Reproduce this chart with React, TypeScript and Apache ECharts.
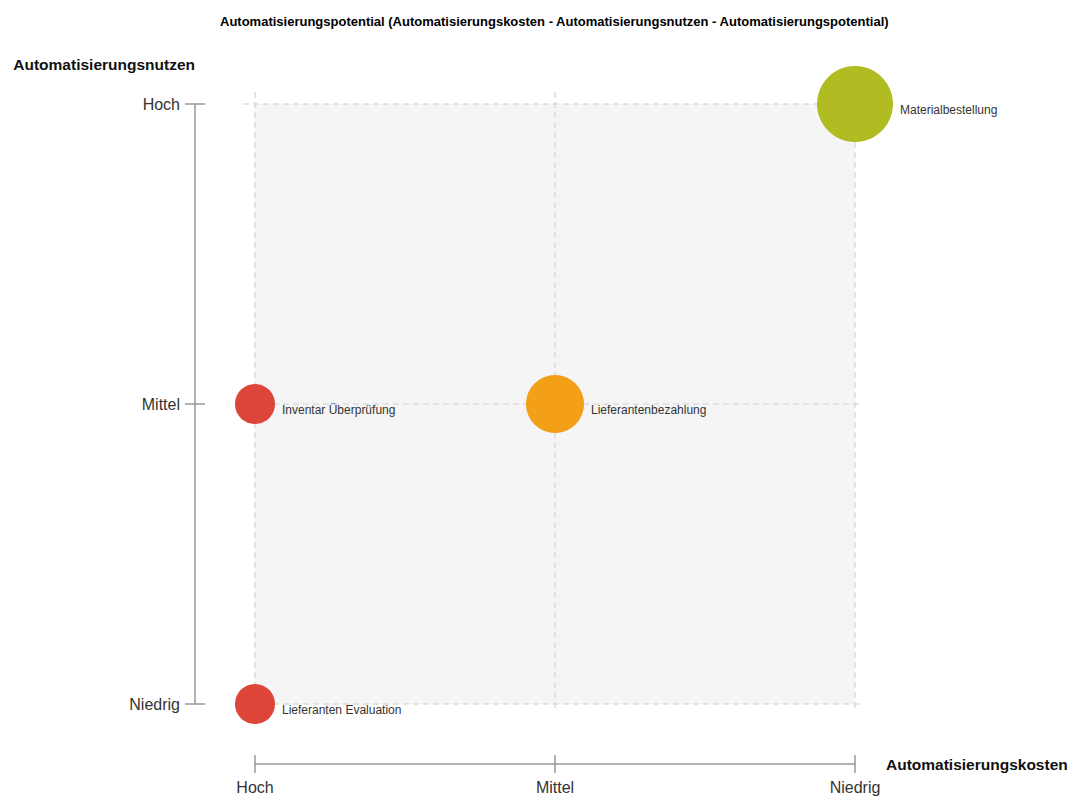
import React, { useEffect, useRef } from "react";
import * as echarts from "echarts";

const TITLE = "Automatisierungspotential (Automatisierungskosten - Automatisierungsnutzen - Automatisierungspotential)";
const X_NAME = "Automatisierungskosten";
const Y_NAME = "Automatisierungsnutzen";
const xCategories = ["Hoch", "Mittel", "Niedrig"];
const yCategories = ["Niedrig", "Mittel", "Hoch"];

const names = ["Materialbestellung", "Lieferantenbezahlung", "Inventar Überprüfung", "Lieferanten Evaluation"];
const kosten = ["Niedrig", "Mittel", "Hoch", "Hoch"];
const nutzen = ["Hoch", "Mittel", "Mittel", "Niedrig"];
const potential = ["Hoch", "Mittel", "Niedrig", "Niedrig"];

const potentialColor: Record<string, string> = { Hoch: "#b0bc22", Mittel: "#f39f18", Niedrig: "#dd4539" };
const potentialSize: Record<string, number> = { Hoch: 76, Mittel: 58, Niedrig: 40 };

const FONT = "'Liberation Sans', Arial, sans-serif";

export default function App() {
  const ref = useRef<HTMLDivElement>(null);
  useEffect(() => {
    document.body.style.margin = "0";
    const chart = echarts.init(ref.current!, undefined, { renderer: "svg" });
    const axisLineStyle = { color: "#999", width: 1.5 };
    const option: any = {
      animation: false,
      textStyle: { fontFamily: FONT },
      title: {
        text: TITLE,
        left: 215,
        top: 10,
        textStyle: { fontSize: 13, fontWeight: "bold", color: "#000", fontFamily: FONT },
      },
      grid: {
        left: 255,
        right: 219,
        top: 104,
        bottom: 99,
        show: true,
        backgroundColor: "#f5f5f5",
        borderWidth: 0,
      },
      xAxis: [
        {
          type: "category",
          data: xCategories,
          boundaryGap: false,
          position: "bottom",
          offset: 60,
          name: X_NAME,
          nameLocation: "end",
          nameGap: 31,
          nameTextStyle: { fontSize: 15.5, fontWeight: "bold", color: "#111", fontFamily: FONT },
          axisLine: { show: true, lineStyle: axisLineStyle },
          axisTick: { show: true, length: 9, lineStyle: axisLineStyle },
          axisLabel: { fontSize: 16, color: "#333", margin: 15, fontFamily: FONT },
          splitLine: { show: false },
        },
        {
          type: "category",
          data: xCategories,
          boundaryGap: false,
          position: "bottom",
          offset: 60,
          axisLine: { show: false },
          axisTick: { show: true, inside: true, length: 9, lineStyle: axisLineStyle },
          axisLabel: { show: false },
          splitLine: { show: false },
        },
      ],
      yAxis: [
        {
          type: "category",
          data: yCategories,
          boundaryGap: false,
          position: "left",
          offset: 60,
          name: Y_NAME,
          nameLocation: "end",
          nameGap: 32,
          nameTextStyle: { fontSize: 15.5, fontWeight: "bold", color: "#111", align: "right", fontFamily: FONT },
          axisLine: { show: true, lineStyle: axisLineStyle },
          axisTick: { show: true, length: 10, lineStyle: axisLineStyle },
          axisLabel: { fontSize: 16, color: "#333", margin: 15, fontFamily: FONT },
          splitLine: { show: false },
        },
        {
          type: "category",
          data: yCategories,
          boundaryGap: false,
          position: "left",
          offset: 60,
          axisLine: { show: false },
          axisTick: { show: true, inside: true, length: 10, lineStyle: axisLineStyle },
          axisLabel: { show: false },
          splitLine: { show: false },
        },
      ],
      series: [
        {
          type: "custom",
          xAxisIndex: 0,
          yAxisIndex: 0,
          silent: true,
          z: 1,
          data: xCategories.map((_, i) => i),
          renderItem: (params: any, api: any) => {
            const i = params.dataIndex;
            const left = api.coord([0, 0])[0];
            const right = api.coord([xCategories.length - 1, 0])[0];
            const bottom = api.coord([0, 0])[1];
            const top = api.coord([0, yCategories.length - 1])[1];
            const x = api.coord([i, 0])[0];
            const y = api.coord([0, i])[1];
            const style = { stroke: "#dcdcdc", lineWidth: 1.5, lineDash: [6, 4] };
            return {
              type: "group",
              children: [
                { type: "line", shape: { x1: x, y1: top - 12, x2: x, y2: bottom + 8 }, style },
                { type: "line", shape: { x1: left - 12, y1: y, x2: right + 7, y2: y }, style },
              ],
            };
          },
        },
        {
          type: "scatter",
          xAxisIndex: 0,
          yAxisIndex: 0,
          z: 3,
          data: names.map((n, i) => ({
            name: n,
            value: [kosten[i], nutzen[i]],
            symbolSize: potentialSize[potential[i]],
            itemStyle: { color: potentialColor[potential[i]], opacity: 1 },
          })),
          label: {
            show: true,
            position: "right",
            distance: 7,
            offset: [0, 6],
            formatter: (p: any) => p.name,
            fontSize: 12,
            color: "#333",
            fontFamily: FONT,
          },
        },
      ],
    };
    chart.setOption(option);
    return () => chart.dispose();
  }, []);
  return <div ref={ref} style={{ width: 1074, height: 803 }} />;
}
